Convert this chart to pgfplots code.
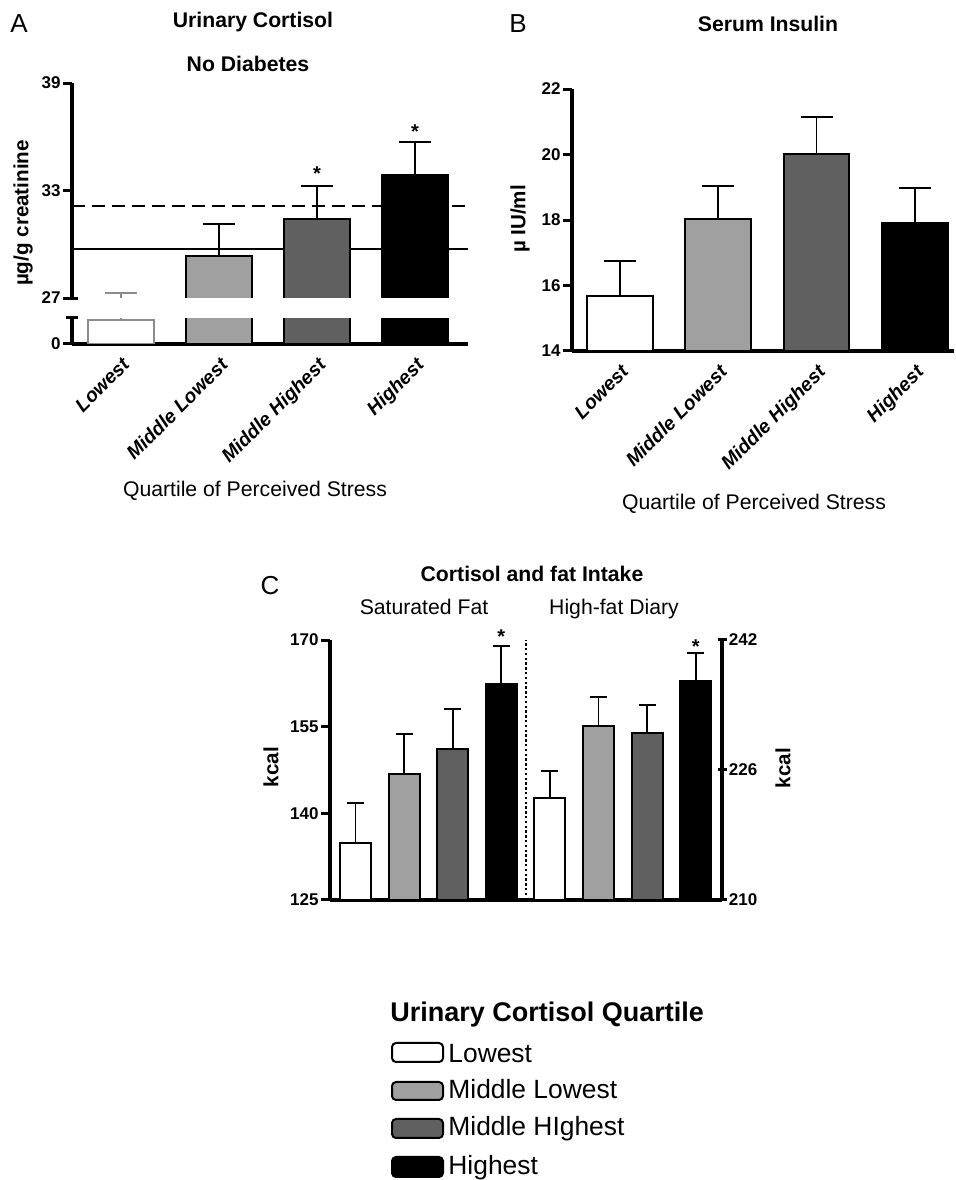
\documentclass[border=0pt]{standalone}
\usepackage{pgfplots}
\pgfplotsset{compat=1.18}
\usepackage{fontspec}
\setmainfont{Liberation Sans}
\definecolor{lg}{HTML}{A0A0A0}
\definecolor{dg}{HTML}{606060}
\definecolor{lgo}{HTML}{8C8C8C}
\newcommand{\fs}[1]{\fontsize{#1}{#1}\selectfont}
\pgfplotsset{
  base/.style={
    scale only axis,
    anchor=south west,
    clip mode=individual,
    axis x line=bottom, axis y line=left,
    axis line style={-, line width=1.6pt},
    tick align=outside,
    major tick length=4.5pt,
    y tick style={line width=1.5pt, black},
    x tick style={draw=none},
    /pgf/number format/assume math mode=true,
    yticklabel style={font=\bfseries\fs{8.5}, inner sep=1pt},
    xticklabel style={font=\bfseries\itshape\fs{9.7}, rotate=45, anchor=north east, inner sep=1pt},
  },
  errs/.style={error bars/.cd, y dir=plus, y explicit,
    error bar style={line width=0.9pt, #1},
    error mark options={rotate=90, line width=0.9pt, mark size=8pt, #1}},
  errc/.style={error bars/.cd, y dir=plus, y explicit,
    error bar style={line width=0.9pt, black},
    error mark options={rotate=90, line width=0.9pt, mark size=4.25pt, black}},
}
\begin{document}
\begin{tikzpicture}
\useasboundingbox (0,0) rectangle (477.5pt,590pt);

% ---------------- Panel A ----------------
\begin{axis}[base,
  at={(36pt,418pt)}, width=198pt, height=130.5pt,
  xmin=-0.5, xmax=3.54, ymin=24.433, ymax=39,
  ytick={24.433,27,33,39}, yticklabels={0,27,33,39},
  xtick={0,1,2,3}, xticklabels={Lowest,Middle Lowest,Middle Highest,Highest},
  y axis line style={draw=none},
]
\addplot[line width=1pt, black] coordinates {(-0.5,29.74) (3.54,29.74)};
\addplot[line width=1pt, black, dash pattern=on 6.5pt off 3.5pt] coordinates {(-0.5,32.14) (3.54,32.14)};
\addplot[ybar, bar shift=0pt, bar width=0.67, fill=white, draw=lgo, line width=1pt, errs=lgo]
  coordinates {(0,25.77) +- (0,1.51)};
\addplot[ybar, bar shift=0pt, bar width=0.67, fill=lg, draw=black, line width=1pt, errs=black]
  coordinates {(1,29.35) +- (0,1.78)};
\addplot[ybar, bar shift=0pt, bar width=0.67, fill=dg, draw=black, line width=1pt, errs=black]
  coordinates {(2,31.41) +- (0,1.85)};
\addplot[ybar, bar shift=0pt, bar width=0.67, fill=black, draw=black, line width=1pt, errs=black]
  coordinates {(3,33.87) +- (0,1.83)};
\fill[white] (axis cs:-0.45,25.884) rectangle (axis cs:3.54,27);
\draw[line width=1.6pt] (axis cs:-0.5,27) -- (axis cs:-0.5,39);
\draw[line width=1.6pt] (axis cs:-0.5,24.433) -- (axis cs:-0.5,25.884);
\draw[line width=1.5pt] ([xshift=-4.5pt]axis cs:-0.5,27) -- ([xshift=3pt]axis cs:-0.5,27);
\draw[line width=1.5pt] ([xshift=-3pt]axis cs:-0.5,25.884) -- ([xshift=3pt]axis cs:-0.5,25.884);
\node[anchor=base, yshift=-5.8pt, font=\bfseries\fs{10}] at (axis cs:2,34.2) {*};
\node[anchor=base, yshift=-5.8pt, font=\bfseries\fs{10}] at (axis cs:3,36.54) {*};
\end{axis}
\node[anchor=base, font=\fs{13}] at (9.5pt,573.5pt) {A};
\node[anchor=base, font=\bfseries\fs{10.6}] at (126.5pt,576pt) {Urinary Cortisol};
\node[anchor=base, font=\bfseries\fs{10.6}] at (124pt,554pt) {No Diabetes};
\node[rotate=90, font=\bfseries\fs{10.3}] at (11.5pt,483.5pt) {µg/g creatinine};
\node[anchor=base, font=\fs{10.6}] at (127.5pt,341.5pt) {Quartile of Perceived Stress};

% ---------------- Panel B ----------------
\begin{axis}[base,
  at={(286pt,414.5pt)}, width=191pt, height=131pt,
  xmin=-0.49, xmax=3.40, ymin=14, ymax=22,
  ytick={14,16,18,20,22},
  xtick={0,1,2,3}, xticklabels={Lowest,Middle Lowest,Middle Highest,Highest},
]
\addplot[ybar, bar shift=0pt, bar width=0.67, fill=white, draw=black, line width=1pt, errs=black]
  coordinates {(0,15.68) +- (0,1.07)};
\addplot[ybar, bar shift=0pt, bar width=0.67, fill=lg, draw=black, line width=1pt, errs=black]
  coordinates {(1,18.03) +- (0,1.01)};
\addplot[ybar, bar shift=0pt, bar width=0.67, fill=dg, draw=black, line width=1pt, errs=black]
  coordinates {(2,20.02) +- (0,1.12)};
\addplot[ybar, bar shift=0pt, bar width=0.67, fill=black, draw=black, line width=1pt, errs=black]
  coordinates {(3,17.91) +- (0,1.07)};
\end{axis}
\node[anchor=base, font=\fs{13}] at (259pt,573.5pt) {B};
\node[anchor=base, font=\bfseries\fs{10.6}] at (384pt,574pt) {Serum Insulin};
\node[rotate=90, font=\bfseries\fs{10.3}] at (260pt,480.5pt) {µ IU/ml};
\node[anchor=base, font=\fs{10.6}] at (377pt,335pt) {Quartile of Perceived Stress};

% ---------------- Panel C ----------------
\begin{axis}[base,
  at={(165pt,140pt)}, width=196pt, height=130pt,
  xmin=-0.525, xmax=7.54, ymin=125, ymax=170,
  ytick={125,140,155,170}, xtick=\empty,
]
\addplot[ybar, bar shift=0pt, bar width=0.64, fill=white, draw=black, line width=1pt, errc]
  coordinates {(0,134.86) +- (0,6.93)};
\addplot[ybar, bar shift=0pt, bar width=0.64, fill=lg, draw=black, line width=1pt, errc]
  coordinates {(1,146.8) +- (0,6.92)};
\addplot[ybar, bar shift=0pt, bar width=0.64, fill=dg, draw=black, line width=1pt, errc]
  coordinates {(2,151.13) +- (0,6.92)};
\addplot[ybar, bar shift=0pt, bar width=0.64, fill=black, draw=black, line width=1pt, errc]
  coordinates {(3,162.38) +- (0,6.58)};
\draw[line width=0.8pt, dash pattern=on 1.2pt off 1.2pt] (axis cs:3.51,125) -- (axis cs:3.51,170);
\node[anchor=base, yshift=-5.8pt, font=\bfseries\fs{10}] at (axis cs:3,171.4) {*};
\end{axis}
\begin{axis}[base,
  at={(165pt,140pt)}, width=196pt, height=130pt,
  xmin=-0.525, xmax=7.54, ymin=210, ymax=242,
  axis x line=none, axis y line=right,
  y axis line style={-, line width=1.6pt},
  ytick={210,226,242}, xtick=\empty,
]
\addplot[ybar, bar shift=0pt, bar width=0.64, fill=white, draw=black, line width=1pt, errc]
  coordinates {(4,222.55) +- (0,3.33)};
\addplot[ybar, bar shift=0pt, bar width=0.64, fill=lg, draw=black, line width=1pt, errc]
  coordinates {(5,231.4) +- (0,3.58)};
\addplot[ybar, bar shift=0pt, bar width=0.64, fill=dg, draw=black, line width=1pt, errc]
  coordinates {(6,230.55) +- (0,3.45)};
\addplot[ybar, bar shift=0pt, bar width=0.64, fill=black, draw=black, line width=1pt, errc]
  coordinates {(7,236.95) +- (0,3.45)};
\node[anchor=base, yshift=-5.8pt, font=\bfseries\fs{10}] at (axis cs:7,241.75) {*};
\end{axis}
\node[anchor=base, font=\fs{13}] at (135pt,292.5pt) {C};
\node[anchor=base, font=\bfseries\fs{10.6}] at (266pt,299pt) {Cortisol and fat Intake};
\node[anchor=base, font=\fs{10.6}] at (212pt,282.5pt) {Saturated Fat};
\node[anchor=base, font=\fs{10.6}] at (307pt,282.5pt) {High-fat Diary};
\node[rotate=90, font=\bfseries\fs{10.3}] at (135.5pt,206.5pt) {kcal};
\node[rotate=90, font=\bfseries\fs{10.3}] at (391.5pt,206pt) {kcal};

% ---------------- Legend ----------------
\node[anchor=base west, font=\bfseries\fs{13.5}, inner sep=0pt] at (195pt,79pt) {Urinary Cortisol Quartile};
\draw[line width=1pt, rounded corners=2pt, fill=white] (196pt,59pt) rectangle (221.5pt,68.5pt);
\draw[line width=1pt, rounded corners=2pt, fill=lg] (196pt,40pt) rectangle (221.5pt,49pt);
\draw[line width=1pt, rounded corners=2pt, fill=dg] (196pt,21pt) rectangle (221.5pt,30.5pt);
\draw[line width=1pt, rounded corners=2pt, fill=black] (196pt,1.5pt) rectangle (221.5pt,11.5pt);
\node[anchor=base west, font=\fs{13.2}, inner sep=0pt] at (224pt,59pt) {Lowest};
\node[anchor=base west, font=\fs{13.2}, inner sep=0pt] at (224pt,40.5pt) {Middle Lowest};
\node[anchor=base west, font=\fs{13.2}, inner sep=0pt] at (224pt,22pt) {Middle HIghest};
\node[anchor=base west, font=\fs{13.2}, inner sep=0pt] at (224pt,2.5pt) {Highest};
\end{tikzpicture}
\end{document}
